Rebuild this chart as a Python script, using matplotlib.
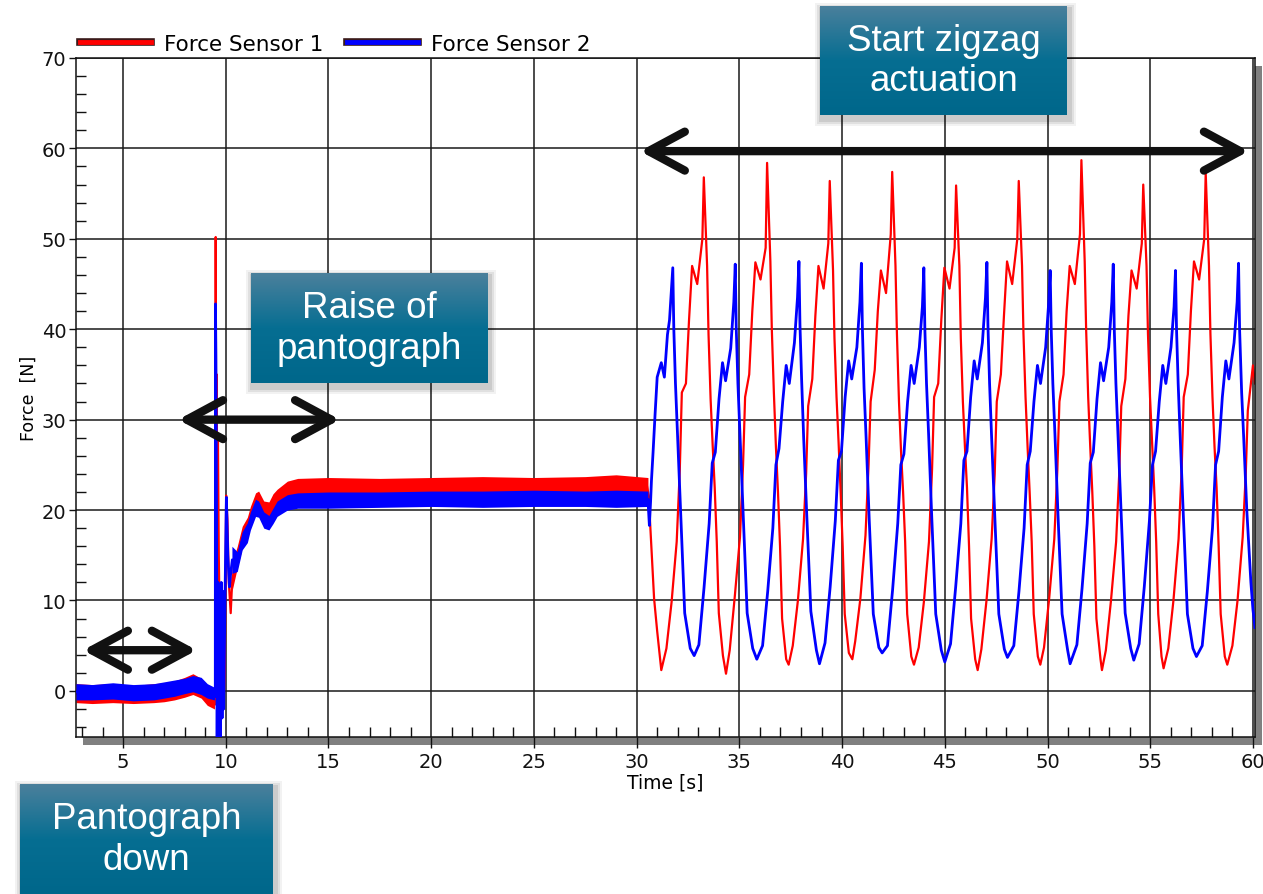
import numpy as np
import matplotlib
matplotlib.use("Agg")
import matplotlib.pyplot as plt
import matplotlib.patheffects as pe
from matplotlib.colors import LinearSegmentedColormap
from matplotlib.lines import Line2D
from matplotlib.patches import Rectangle
from matplotlib.ticker import MultipleLocator

# ── data (time [s], force [N]) ────────────────────────────────────────────
RED_T = [
    2.71, 4.0, 5.5, 7.0, 8.0, 8.4, 8.8, 9.2, 9.45,
    9.49, 9.50, 9.51, 9.53, 9.56, 9.58, 9.62, 9.66, 9.72, 9.80, 9.88, 9.95, 10.02, 10.08, 10.15, 10.24, 10.32,
    10.45, 10.56, 10.8, 11.05, 11.2, 11.45, 11.6, 11.85, 12.1, 12.3, 12.5, 13.0, 13.5, 20.0, 30.5,
    30.6, 30.63, 30.75, 30.85, 31.0, 31.2, 31.45, 31.7, 31.95, 32.1, 32.2, 32.4, 32.55, 32.7, 32.95, 33.2,
    33.27, 33.43, 33.5, 33.6, 33.7, 33.8, 33.9, 34.0, 34.2, 34.35,
    34.53, 34.78, 35.03, 35.18, 35.28, 35.48, 35.63, 35.78, 36.03, 36.28,
    36.35, 36.51, 36.58, 36.68, 36.78, 36.88, 36.98, 37.08, 37.28, 37.4,
    37.6, 37.85, 38.1, 38.25, 38.35, 38.55, 38.7, 38.85, 39.1, 39.33,
    39.4, 39.56, 39.63, 39.73, 39.83, 39.93, 40.03, 40.13, 40.33, 40.5,
    40.64, 40.89, 41.14, 41.29, 41.39, 41.59, 41.74, 41.89, 42.14, 42.37,
    42.44, 42.6, 42.67, 42.77, 42.87, 42.97, 43.07, 43.17, 43.37, 43.5,
    43.73, 43.98, 44.23, 44.38, 44.48, 44.68, 44.83, 44.98, 45.23, 45.48,
    45.55, 45.71, 45.78, 45.88, 45.98, 46.08, 46.18, 46.28, 46.48, 46.6,
    46.78, 47.03, 47.28, 47.43, 47.53, 47.73, 47.88, 48.03, 48.28, 48.53,
    48.6, 48.76, 48.83, 48.93, 49.03, 49.13, 49.23, 49.33, 49.53, 49.65,
    49.83, 50.08, 50.33, 50.48, 50.58, 50.78, 50.93, 51.08, 51.33, 51.58,
    51.65, 51.81, 51.88, 51.98, 52.08, 52.18, 52.28, 52.38, 52.58, 52.65,
    52.84, 53.09, 53.34, 53.49, 53.59, 53.79, 53.94, 54.09, 54.34, 54.59,
    54.66, 54.82, 54.89, 54.99, 55.09, 55.19, 55.29, 55.39, 55.55, 55.65,
    55.88, 56.13, 56.38, 56.53, 56.63, 56.83, 56.98, 57.13, 57.38, 57.63,
    57.7, 57.86, 57.93, 58.03, 58.13, 58.23, 58.33, 58.43, 58.63, 58.75,
    59.0, 59.25, 59.5, 59.65, 59.75, 59.9, 60.0, 60.1,
]
RED_F = [
    -0.3, -0.4, -0.4, -0.2, 0.4, 0.8, 0.3, -0.8, -1.4,
    -1.5, 30.0, 50.2, 27.0, 35.0, 18.0, 28.0, 15.0, 5.0, 0.0, -2.0, 2.0, 21.6, 19.0, 12.0, 8.6, 12.5,
    13.5, 14.8, 17.0, 18.0, 19.4, 21.0, 21.2, 20.0, 19.9, 20.8, 21.4, 22.3, 22.6, 22.7, 22.7,
    21.5, 19.7, 14.5, 10.2, 6.6, 2.3, 4.7, 9.8, 16.5, 24.4, 33.0, 34.0, 41.0, 47.0, 45.0, 50.0,
    56.8, 47.0, 39.4, 32.3, 27.2, 22.5, 16.5, 8.6, 3.9, 1.9,
    4.5, 10.5, 17.0, 25.0, 32.5, 35.0, 42.0, 47.4, 45.5, 49.0,
    58.4, 47.5, 40.0, 33.0, 27.0, 22.0, 16.0, 8.0, 3.5, 2.9,
    5.0, 10.0, 16.8, 24.0, 31.5, 34.5, 41.5, 47.0, 44.5, 49.5,
    56.4, 46.5, 39.0, 32.5, 27.5, 22.0, 16.0, 8.5, 4.2, 3.5,
    5.5, 10.2, 17.2, 25.0, 32.0, 35.5, 42.0, 46.5, 44.0, 50.5,
    57.4, 47.0, 39.5, 32.0, 26.5, 22.0, 16.5, 8.5, 3.8, 2.9,
    4.8, 9.8, 16.5, 24.5, 32.5, 34.0, 41.0, 46.8, 44.5, 49.0,
    55.9, 47.0, 39.0, 32.0, 27.0, 22.5, 16.0, 8.0, 3.5, 2.3,
    4.6, 10.0, 16.8, 24.0, 32.0, 35.0, 41.5, 47.5, 45.0, 50.0,
    56.4, 47.0, 39.5, 32.5, 27.0, 22.0, 16.5, 8.5, 3.8, 2.9,
    4.8, 10.2, 16.8, 24.5, 32.0, 35.0, 42.0, 47.0, 45.0, 50.5,
    58.7, 47.5, 40.0, 32.5, 27.0, 22.0, 16.0, 8.0, 3.5, 2.3,
    4.5, 10.0, 16.5, 24.0, 31.5, 34.5, 41.5, 46.5, 44.5, 49.5,
    56.0, 47.0, 39.5, 32.5, 27.5, 22.5, 16.5, 8.5, 3.8, 2.5,
    4.7, 10.0, 16.8, 24.5, 32.5, 35.0, 42.0, 47.5, 45.5, 50.0,
    57.3, 47.0, 39.5, 32.5, 27.0, 22.5, 16.0, 8.5, 3.8, 2.9,
    5.0, 10.0, 17.0, 24.0, 31.0, 34.0, 36.0, 34.0,
]

BLUE_T = [
    2.71, 4.0, 5.5, 7.0, 8.0, 8.4, 8.8, 9.2, 9.45,
    9.49, 9.50, 9.52, 9.55, 9.58, 9.62, 9.66, 9.70, 9.74, 9.78, 9.82, 9.86, 9.90, 9.95, 10.03, 10.10, 10.18, 10.24, 10.32,
    10.56, 10.8, 11.05, 11.2, 11.45, 11.6, 11.85, 12.1, 12.3, 12.5, 13.0, 13.5, 20.0, 30.5,
    30.55, 30.62, 30.68, 30.72, 30.8, 30.9, 31.0, 31.2, 31.35, 31.5, 31.6,
    31.76, 31.81, 31.89, 31.99, 32.14, 32.34, 32.61, 32.8,
    33.03, 33.28, 33.53, 33.68, 33.83, 34.01, 34.18, 34.33, 34.58, 34.73,
    34.8, 34.85, 34.93, 35.03, 35.18, 35.38, 35.65, 35.85,
    36.13, 36.38, 36.63, 36.78, 36.93, 37.11, 37.28, 37.43, 37.68, 37.83,
    37.9, 37.95, 38.03, 38.13, 38.28, 38.48, 38.75, 38.9,
    39.17, 39.42, 39.67, 39.82, 39.97, 40.15, 40.32, 40.47, 40.72, 40.87,
    40.94, 40.99, 41.07, 41.17, 41.32, 41.52, 41.79, 41.95,
    42.21, 42.46, 42.71, 42.86, 43.01, 43.19, 43.36, 43.51, 43.76, 43.91,
    43.98, 44.03, 44.11, 44.21, 44.36, 44.56, 44.83, 45.0,
    45.28, 45.53, 45.78, 45.93, 46.08, 46.26, 46.43, 46.58, 46.83, 46.98,
    47.05, 47.1, 47.18, 47.28, 47.43, 47.63, 47.9, 48.05,
    48.36, 48.61, 48.86, 49.01, 49.16, 49.34, 49.51, 49.66, 49.91, 50.06,
    50.13, 50.18, 50.26, 50.36, 50.51, 50.71, 50.98, 51.1,
    51.43, 51.68, 51.93, 52.08, 52.23, 52.41, 52.58, 52.73, 52.98, 53.13,
    53.2, 53.25, 53.33, 53.43, 53.58, 53.78, 54.05, 54.2,
    54.46, 54.71, 54.96, 55.11, 55.26, 55.44, 55.61, 55.76, 56.01, 56.16,
    56.23, 56.28, 56.36, 56.46, 56.61, 56.81, 57.08, 57.25,
    57.53, 57.78, 58.03, 58.18, 58.33, 58.51, 58.68, 58.83, 59.08, 59.23,
    59.3, 59.35, 59.45, 59.55, 59.7, 59.9, 60.0, 60.1,
]
BLUE_F = [
    -0.1, -0.1, -0.2, 0.0, 0.6, 0.8, 0.5, 0.0, -0.3,
    -0.6, 42.8, 37.0, 20.0, -6.0, 12.0, -6.0, 10.0, -6.0, 12.0, -3.0, 11.0, -2.0, 8.0, 21.4, 15.0, 11.5, 13.0, 14.5,
    14.2, 16.6, 17.4, 18.8, 20.2, 20.0, 18.8, 18.5, 19.3, 20.1, 20.8, 21.0, 21.2, 21.2,
    21.2, 18.3, 21.0, 23.2, 26.4, 30.7, 34.7, 36.3, 34.7, 39.4, 41.0,
    46.8, 40.0, 34.0, 28.4, 19.7, 8.6, 4.7, 3.9,
    5.1, 11.4, 18.5, 25.2, 26.4, 32.3, 36.3, 34.3, 37.9, 43.0,
    47.2, 40.0, 34.0, 28.4, 19.7, 8.6, 4.7, 3.5,
    5.0, 11.0, 18.0, 25.0, 26.8, 32.0, 36.0, 34.0, 38.5, 43.5,
    47.5, 40.5, 34.5, 28.0, 19.5, 8.8, 4.5, 3.0,
    5.3, 11.5, 18.8, 25.5, 26.5, 32.5, 36.5, 34.5, 38.0, 43.0,
    47.3, 40.0, 33.5, 28.0, 19.0, 8.5, 4.8, 4.2,
    5.0, 11.2, 18.5, 25.0, 26.2, 32.0, 36.0, 34.0, 38.0, 42.5,
    46.8, 40.0, 34.0, 28.5, 19.5, 8.5, 4.5, 3.2,
    5.2, 11.5, 18.5, 25.5, 26.5, 32.5, 36.5, 34.5, 38.5, 43.5,
    47.4, 40.5, 34.0, 28.0, 19.5, 8.5, 4.6, 3.7,
    5.0, 11.0, 18.0, 25.0, 26.5, 32.0, 36.0, 34.0, 38.0, 43.0,
    46.5, 40.0, 34.0, 28.5, 19.5, 8.5, 4.5, 3.0,
    5.1, 11.3, 18.5, 25.2, 26.4, 32.3, 36.3, 34.3, 38.0, 43.0,
    47.2, 40.0, 34.0, 28.4, 19.7, 8.6, 4.7, 3.4,
    5.2, 11.5, 18.8, 25.0, 26.5, 32.0, 36.0, 34.0, 38.0, 42.5,
    46.5, 40.0, 34.0, 28.0, 19.5, 8.5, 4.7, 3.8,
    5.0, 11.0, 18.0, 25.0, 26.5, 32.5, 36.5, 34.5, 38.5, 43.0,
    47.3, 40.0, 33.0, 28.0, 20.0, 12.0, 9.0, 7.0,
]

# noise envelopes of the quiet stretches (pantograph down / pantograph raised)
PRE_T = [2.71, 3.5, 4.5, 5.5, 6.5, 7.0, 7.5, 8.0, 8.4, 8.8, 9.1, 9.45]
RED_PRE_LO = [-1.3, -1.4, -1.3, -1.4, -1.3, -1.2, -1.0, -0.7, -0.4, -0.8, -1.6, -2.0]
RED_PRE_HI = [0.8, 0.7, 0.8, 0.6, 0.8, 0.9, 1.1, 1.5, 1.9, 1.4, 0.4, -0.2]
BLUE_PRE_LO = [-1.0, -1.0, -0.9, -1.1, -1.0, -0.8, -0.6, -0.3, -0.1, -0.4, -0.8, -1.0]
BLUE_PRE_HI = [0.8, 0.7, 0.9, 0.7, 0.8, 1.0, 1.2, 1.4, 1.7, 1.5, 0.8, 0.4]

UP_T = [10.3, 10.56, 10.8, 11.05, 11.2, 11.45, 11.6, 11.85, 12.1, 12.3, 12.5, 13.0, 13.5,
        15.0, 17.5, 20.0, 22.5, 25.0, 27.5, 29.0, 30.55]
RED_UP_LO = [11.0, 13.6, 15.8, 16.8, 18.4, 20.0, 20.4, 19.2, 19.0, 19.9, 20.6, 21.5, 21.8,
             21.8, 21.9, 21.8, 21.9, 21.9, 21.8, 21.9, 21.8]
RED_UP_HI = [14.0, 16.0, 18.2, 19.2, 20.4, 21.9, 22.1, 21.0, 20.9, 21.8, 22.3, 23.2, 23.5,
             23.6, 23.5, 23.6, 23.7, 23.6, 23.7, 23.9, 23.6]
BLUE_UP_LO = [13.0, 13.2, 15.6, 16.4, 17.8, 19.3, 19.2, 18.0, 17.8, 18.5, 19.3, 20.0, 20.2,
              20.2, 20.3, 20.4, 20.3, 20.4, 20.4, 20.3, 20.4]
BLUE_UP_HI = [16.0, 15.4, 17.6, 18.6, 19.8, 21.2, 21.0, 19.8, 19.4, 20.2, 21.0, 21.7, 21.9,
              22.0, 22.0, 22.1, 22.1, 22.2, 22.1, 22.2, 22.1]

X_TICKS = [5, 10, 15, 20, 25, 30, 35, 40, 45, 50, 55, 60]
Y_TICKS = [0, 10, 20, 30, 40, 50, 60, 70]

# phase arrows: (t_start, t_end, force level)
ARROWS = [(3.05, 8.59, 4.5), (7.68, 15.56, 30.0), (30.16, 59.8, 59.7)]

RED, BLUE, INK = "#ff0000", "#0000ff", "#111111"
W, H = 1263, 895

fig = plt.figure(figsize=(W / 100, H / 100), dpi=100, facecolor="white")
L, R, T, B = 76, 1255, 59, 738
ax = fig.add_axes([L / W, 1 - B / H, (R - L) / W, (B - T) / H])

# drop shadow of the plot frame
fig.add_artist(Rectangle(((L + 7) / W, 1 - (B + 8) / H), (R - L) / W, (B - T) / H,
                         transform=fig.transFigure, facecolor="#808080", edgecolor="none", zorder=0))
ax.set_zorder(1)

ax.fill_between(PRE_T, RED_PRE_LO, RED_PRE_HI, color=RED, lw=0, zorder=2)
ax.fill_between(UP_T, RED_UP_LO, RED_UP_HI, color=RED, lw=0, zorder=2)
ax.plot(RED_T, RED_F, color=RED, lw=1.6, zorder=2)
ax.fill_between(PRE_T, BLUE_PRE_LO, BLUE_PRE_HI, color=BLUE, lw=0, zorder=3)
ax.fill_between(UP_T, BLUE_UP_LO, BLUE_UP_HI, color=BLUE, lw=0, zorder=3)
ax.plot(BLUE_T, BLUE_F, color=BLUE, lw=2.0, zorder=3)

ax.set_xlim(2.71, 60.1)
ax.set_ylim(-5.1, 70)
ax.set_xticks(X_TICKS)
ax.set_yticks(Y_TICKS)
ax.xaxis.set_minor_locator(MultipleLocator(1))
ax.yaxis.set_minor_locator(MultipleLocator(2))
ax.tick_params(which="major", direction="out", width=1, labelsize=14, colors="#111", pad=3)
ax.tick_params(axis="x", which="major", length=8)
ax.tick_params(axis="y", which="major", length=5, pad=2)
ax.tick_params(which="minor", direction="in", length=7, width=1, colors="#111")
ax.grid(which="major", color="#1a1a1a", lw=1.1)
ax.set_axisbelow(True)
for s in ax.spines.values():
    s.set_color("#111")
    s.set_linewidth(1.1)
ax.set_xlabel("Time [s]", fontsize=13.5, labelpad=1)
ax.set_ylabel("Force  [N]", fontsize=12.5, labelpad=3)

for t0, t1, f in ARROWS:
    ax.annotate("", xy=(t1, f), xytext=(t0, f), annotation_clip=False, zorder=6,
                arrowprops=dict(arrowstyle="<->,head_length=1.3,head_width=0.7", mutation_scale=20,
                                lw=6, color=INK, shrinkA=0, shrinkB=0,
                                capstyle="round", joinstyle="round"))

sample = [pe.Stroke(linewidth=5.5, foreground="#3a1a1a"), pe.Normal()]
handles = [Line2D([], [], color=RED, lw=3.5, path_effects=sample),
           Line2D([], [], color=BLUE, lw=3.5, path_effects=sample)]
ax.legend(handles, ["Force Sensor 1", "Force Sensor 2"], loc="lower left", bbox_to_anchor=(0, 1.0),
          ncol=2, frameon=False, fontsize=15.5, borderaxespad=0.2, borderpad=0,
          handlelength=3.3, handletextpad=0.6, columnspacing=1.1)

# teal caption boxes
teal = LinearSegmentedColormap.from_list("teal", [(0, "#4b809c"), (0.5, "#066e92"), (1, "#00678b")])
grad = np.linspace(0, 1, 200)[:, None]


def tag(x0, y0, x1, y1, text):
    for k, a in ((7, .05), (5, .07), (3, .09)):
        fig.add_artist(Rectangle(((x0 + 2 - k) / W, 1 - (y1 + 4 + k) / H),
                                 (x1 - x0 + 2 * k) / W, (y1 - y0 + 2 * k) / H,
                                 transform=fig.transFigure, facecolor="#000", alpha=a,
                                 edgecolor="none", zorder=8))
    bx = fig.add_axes([x0 / W, 1 - y1 / H, (x1 - x0) / W, (y1 - y0) / H])
    bx.set_zorder(10)
    bx.imshow(grad, aspect="auto", cmap=teal, extent=[0, 1, 0, 1])
    bx.axis("off")
    bx.text(0.5, 0.5, text, ha="center", va="center", color="white", fontsize=26.5,
            family="Liberation Sans", linespacing=1.2, transform=bx.transAxes)


tag(820, 7, 1067, 116, "Start zigzag\nactuation")
tag(251, 274, 487, 384, "Raise of\npantograph")
tag(20, 785, 273, 895, "Pantograph\ndown")

fig.savefig("out.png", dpi=100, facecolor="white")
